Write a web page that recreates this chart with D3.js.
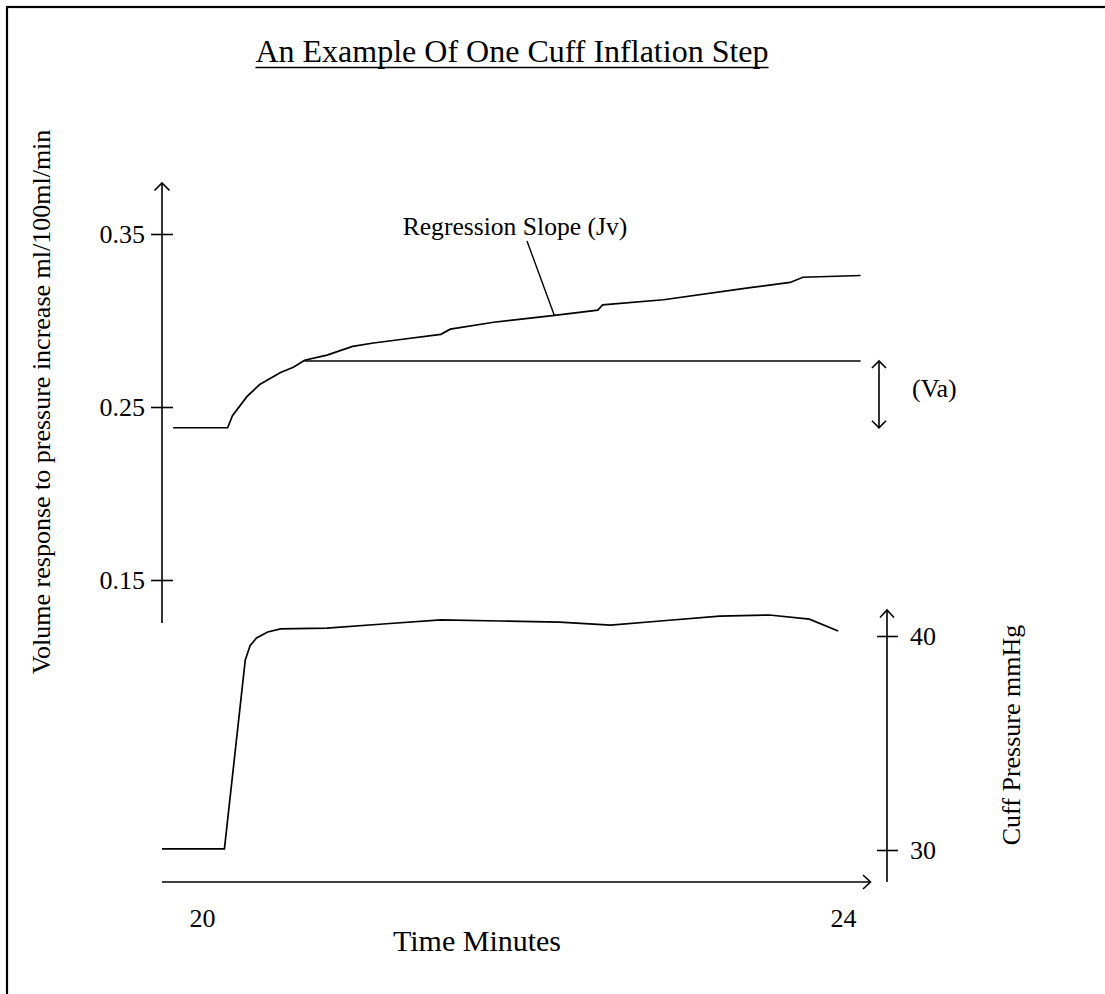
<!DOCTYPE html>
<html><head><meta charset="utf-8">
<script src="https://cdn.jsdelivr.net/npm/d3@7"></script>
<style>body{margin:0;background:#fff;overflow:hidden}</style>
</head><body><svg id="c" width="1105" height="994"></svg>
<script>
// ---- data ----
const slopeTime  = [19.82, 20.16, 20.19, 20.28, 20.36, 20.49, 20.57, 20.64, 20.78, 20.94, 21.07, 21.24, 21.49, 21.55, 21.82, 22.20, 22.47, 22.50, 22.88, 23.42, 23.67, 23.75, 24.11];
const slopeValue = [0.238, 0.238, 0.245, 0.256, 0.263, 0.270, 0.273, 0.277, 0.280, 0.285, 0.287, 0.289, 0.292, 0.295, 0.299, 0.303, 0.306, 0.309, 0.312, 0.319, 0.322, 0.325, 0.326];
const pressureTime  = [19.75, 20.14, 20.27, 20.30, 20.34, 20.41, 20.49, 20.78, 21.13, 21.49, 21.86, 22.23, 22.55, 22.86, 23.23, 23.54, 23.79, 23.97];
const pressureValue = [30.05, 30.05, 38.88, 39.55, 39.91, 40.19, 40.33, 40.37, 40.56, 40.75, 40.70, 40.65, 40.51, 40.70, 40.93, 40.98, 40.79, 40.23];
const vaRange = [20.64, 24.11];   // baseline (Va) reference line, time span
const vaLevel = 0.2766;           // level of the Va reference line
const slopeTicks = [0.15, 0.25, 0.35];
const pressureTicks = [30, 40];
const timeTicks = [20, 24];
const title = "An Example Of One Cuff Inflation Step";
const yLabel = "Volume response to pressure increase ml/100ml/min";
const y2Label = "Cuff Pressure mmHg";
const xLabel = "Time Minutes";

// ---- scales ----
const x = d3.scaleLinear().domain([20, 24]).range([202, 843]);
const y = d3.scaleLinear().domain([0.15, 0.35]).range([580, 234]);
const yp = d3.scaleLinear().domain([30, 40]).range([850, 636]);

const svg = d3.select("#c");
const FONT = "'Liberation Serif', 'Times New Roman', serif";
svg.append("rect").attr("x", 7).attr("y", 7).attr("width", 1300).attr("height", 1200)
  .attr("fill", "none").attr("stroke", "#000").attr("stroke-width", 2.2);

// title
const t = svg.append("text").attr("x", 512).attr("y", 62).attr("text-anchor", "middle")
  .attr("font-family", FONT).attr("font-size", 32).attr("fill", "#000").text(title);
const tw = t.node().getComputedTextLength();
svg.append("line").attr("x1", 512 - tw / 2).attr("x2", 512 + tw / 2).attr("y1", 67.5).attr("y2", 67.5)
  .attr("stroke", "#000").attr("stroke-width", 1.5);

const stroke = (sel, w) => sel.attr("stroke", "#000").attr("stroke-width", w || 1.6).attr("fill", "none");

// left axis
const leftAxis = d3.axisLeft(y).tickValues(slopeTicks).tickSize(22).tickPadding(6).tickFormat(d3.format(".2f"));
const gl = svg.append("g").attr("transform", "translate(173,0)").call(leftAxis);
gl.select(".domain").remove();
gl.selectAll("line").attr("stroke", "#000").attr("stroke-width", 1.6);
gl.selectAll("text").attr("font-family", FONT).attr("font-size", 26).attr("fill", "#000");
stroke(svg.append("line").attr("x1", 162).attr("x2", 162).attr("y1", 183).attr("y2", 623));
stroke(svg.append("path").attr("d", "M154.5,190.5L162,183L169.5,190.5"));

// right axis
const rightAxis = d3.axisRight(yp).tickValues(pressureTicks).tickSize(21).tickPadding(12).tickFormat(d3.format("d"));
const gr = svg.append("g").attr("transform", "translate(877,0)").call(rightAxis);
gr.select(".domain").remove();
gr.selectAll("line").attr("stroke", "#000").attr("stroke-width", 1.6);
gr.selectAll("text").attr("font-family", FONT).attr("font-size", 26).attr("fill", "#000");
stroke(svg.append("line").attr("x1", 887).attr("x2", 887).attr("y1", 610).attr("y2", 882));
stroke(svg.append("path").attr("d", "M880,617.5L887,610L894,617.5"));

// bottom axis
const bottomAxis = d3.axisBottom(x).tickValues(timeTicks).tickSize(0).tickPadding(27).tickFormat(d3.format("d"));
const gb = svg.append("g").attr("transform", "translate(0,882)").call(bottomAxis);
gb.select(".domain").remove();
gb.selectAll("text").attr("font-family", FONT).attr("font-size", 26).attr("fill", "#000");
stroke(svg.append("line").attr("x1", 162).attr("x2", 870).attr("y1", 882).attr("y2", 882));
stroke(svg.append("path").attr("d", "M863,875L870.5,882L863,889"));

// axis titles
svg.append("text").attr("transform", "translate(50,402) rotate(-90)").attr("text-anchor", "middle")
  .attr("font-family", FONT).attr("font-size", 26).attr("fill", "#000").text(yLabel);
svg.append("text").attr("transform", "translate(1020,735) rotate(-90)").attr("text-anchor", "middle")
  .attr("font-family", FONT).attr("font-size", 26).attr("fill", "#000").text(y2Label);
svg.append("text").attr("x", 477).attr("y", 951).attr("text-anchor", "middle")
  .attr("font-family", FONT).attr("font-size", 30).attr("fill", "#000").text(xLabel);

// curves
const slopeLine = d3.line().x(d => x(d[0])).y(d => y(d[1]));
stroke(svg.append("path").attr("d", slopeLine(d3.zip(slopeTime, slopeValue))), 1.7);
const pLine = d3.line().x(d => x(d[0])).y(d => yp(d[1]));
stroke(svg.append("path").attr("d", pLine(d3.zip(pressureTime, pressureValue))), 1.7);

// Va reference line
stroke(svg.append("line").attr("x1", x(vaRange[0])).attr("x2", x(vaRange[1])).attr("y1", y(vaLevel)).attr("y2", y(vaLevel)), 1.7);
// Va double arrow
const ax = 879, ay1 = y(vaLevel), ay2 = y(slopeValue[0]);
stroke(svg.append("line").attr("x1", ax).attr("x2", ax).attr("y1", ay1).attr("y2", ay2));
stroke(svg.append("path").attr("d", `M${ax-7},${ay1+7}L${ax},${ay1}L${ax+7},${ay1+7}`));
stroke(svg.append("path").attr("d", `M${ax-7},${ay2-7}L${ax},${ay2}L${ax+7},${ay2-7}`));
svg.append("text").attr("x", 912).attr("y", 397).attr("font-family", FONT).attr("font-size", 26)
  .attr("fill", "#000").text("(Va)");

// Regression slope label + leader
svg.append("text").attr("x", 515).attr("y", 235).attr("text-anchor", "middle").attr("font-family", FONT)
  .attr("font-size", 25.6).attr("fill", "#000").text("Regression Slope (Jv)");
stroke(svg.append("line").attr("x1", 527).attr("y1", 241).attr("x2", x(22.20)).attr("y2", y(0.3026)), 1.4);
</script></body></html>
